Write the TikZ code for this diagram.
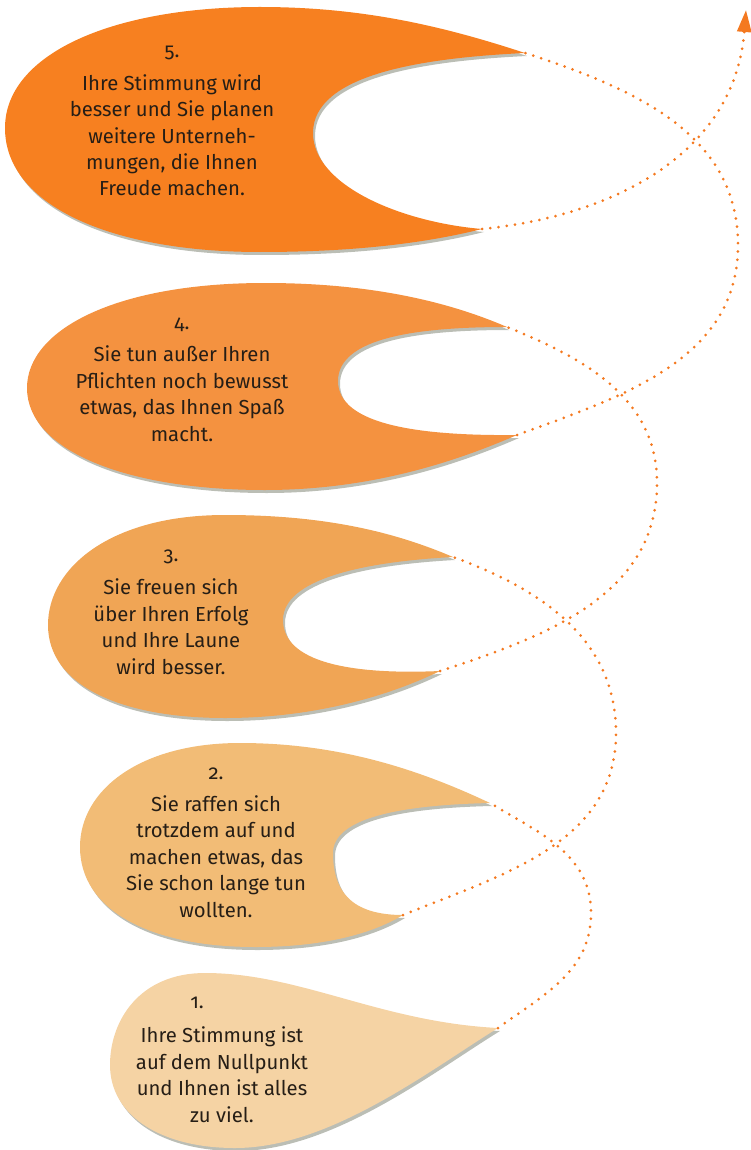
\documentclass[tikz,border=0pt]{standalone}
\usepackage{fontspec}
\setmainfont{Fira Sans}
\usetikzlibrary{arrows.meta,shadows}
\definecolor{c1}{RGB}{245,211,164}
\definecolor{c2}{RGB}{242,188,118}
\definecolor{c3}{RGB}{240,165,85}
\definecolor{c4}{RGB}{244,146,64}
\definecolor{c5}{RGB}{247,128,32}
\definecolor{ink}{RGB}{38,30,22}
\definecolor{dotline}{RGB}{244,121,32}
\definecolor{shade}{RGB}{105,110,92}
\newcommand{\phase}[1]{{\addfontfeatures{Numbers=OldStyle}#1.}}

\begin{document}
\begin{tikzpicture}[x=1pt, y=1pt,
  blob/.style={drop shadow={shadow xshift=2pt, shadow yshift=-3pt, fill=shade, opacity=0.45}},
  txt/.style={align=center, inner sep=0pt, anchor=base, text=ink, font=\fontsize{20.3}{26.4}\selectfont},
  spiral/.style={draw=dotline, line width=3pt, line cap=round, dash pattern=on 0pt off 8.3pt}]
\useasboundingbox (0,0) rectangle (751,-1150);
% tips of the bubbles
\coordinate (tip1) at (498,-1028);
\coordinate (top2) at (490,-803);
\coordinate (bot2) at (403,-915);
\coordinate (top3) at (453,-557);
\coordinate (bot3) at (440,-671);
\coordinate (top4) at (507,-327);
\coordinate (bot4) at (517,-435);
\coordinate (top5) at (525,-53);
\coordinate (bot5) at (482,-229);
\coordinate (head) at (746,-10);

% bubbles
\fill[c5, blob] (top5) .. controls (440,-25) and (360,-7) .. (260,-7)
  .. controls (110,-7) and (5,-55) .. (5,-128)
  .. controls (5,-205) and (110,-252) .. (260,-252)
  .. controls (360,-252) and (430,-242) .. (bot5)
  .. controls (400,-222) and (313,-185) .. (313,-133)
  .. controls (313,-75) and (420,-58) .. (top5) -- cycle;
\fill[c4, blob] (top4) .. controls (440,-298) and (360,-283) .. (265,-283)
  .. controls (115,-283) and (27,-330) .. (27,-388)
  .. controls (27,-450) and (125,-490) .. (265,-490)
  .. controls (370,-490) and (455,-462) .. (bot4)
  .. controls (420,-436) and (338,-425) .. (338,-381)
  .. controls (338,-337) and (420,-327) .. (top4) -- cycle;
\fill[c3, blob] (top3) .. controls (390,-530) and (320,-515) .. (225,-515)
  .. controls (110,-515) and (48,-568) .. (48,-625)
  .. controls (48,-685) and (120,-718) .. (225,-718)
  .. controls (320,-718) and (395,-693) .. (bot3)
  .. controls (350,-675) and (283,-662) .. (283,-620)
  .. controls (283,-580) and (360,-562) .. (top3) -- cycle;
\fill[c2, blob] (top2) .. controls (420,-770) and (340,-743) .. (240,-743)
  .. controls (140,-743) and (80,-790) .. (80,-847)
  .. controls (80,-910) and (150,-947) .. (255,-947)
  .. controls (320,-947) and (370,-935) .. (bot2)
  .. controls (350,-915) and (333,-890) .. (333,-853)
  .. controls (333,-818) and (400,-805) .. (top2) -- cycle;
\fill[c1, blob] (tip1) .. controls (380,-1022) and (300,-973) .. (205,-973)
  .. controls (140,-973) and (110,-1020) .. (110,-1065)
  .. controls (110,-1115) and (160,-1148) .. (235,-1148)
  .. controls (330,-1148) and (430,-1070) .. (tip1) -- cycle;

% texts (base = last line)
\node[txt] (txt5) at (172,-196) {\phase{5}\\[6.5pt]Ihre Stimmung wird\\besser und Sie planen\\weitere Unterneh-\\mungen, die Ihnen\\Freude machen.};
\node[txt] (txt4) at (182,-441) {\phase{4}\\[6pt]Sie tun außer Ihren\\Pflichten noch bewusst\\etwas, das Ihnen Spaß\\macht.};
\node[txt] (txt3) at (171,-674) {\phase{3}\\[7pt]Sie freuen sich\\über Ihren Erfolg\\und Ihre Laune\\wird besser.};
\node[txt] (txt2) at (216,-917) {\phase{2}\\[6pt]Sie raffen sich\\trotzdem auf und\\machen etwas, das\\Sie schon lange tun\\wollten.};
\node[txt] (txt1) at (222,-1122) {\hspace*{-50pt}\phase{1}\\[8pt]Ihre Stimmung ist\\auf dem Nullpunkt\\und Ihnen ist alles\\zu viel.};

% dotted spiral
\foreach \a/\o/\rx/\ry/\i/\b in {tip1/36/591/-913/-31/top2, bot2/22/616/-733/-20/top3,
    bot3/18/657/-483/-22/top4, bot4/20/738/-245/-18/top5}
  \draw[spiral] (\a) to[out=\o, in=-90] (\rx,\ry) to[out=90, in=\i] (\b);
\draw[spiral, -{Triangle[length=22pt, width=14pt]}] (bot5) .. controls (620,-215) and (735,-150) .. (head);
\end{tikzpicture}
\end{document}
